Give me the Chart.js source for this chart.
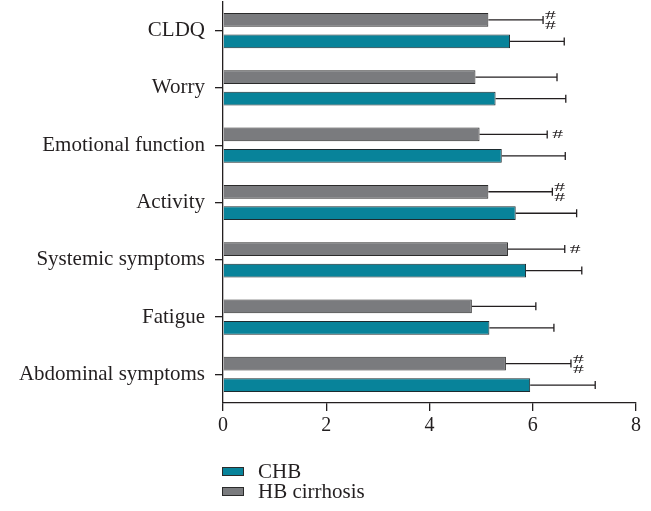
<!DOCTYPE html>
<html>
<head>
<meta charset="utf-8">
<script src="https://cdn.jsdelivr.net/npm/chart.js@4.4.1/dist/chart.umd.min.js"></script>
<style>
  body { margin: 0; background: #fff; }
  #wrap { position: relative; width: 651px; height: 511px; }
  #legend { position: absolute; left: 222px; top: 461px; font-family: 'Liberation Serif', serif; font-size: 21px; color: #231f20; }
  .item { display: flex; align-items: center; height: 20px; }
  .swatch { width: 20px; height: 7px; border: 1px solid #2b2b2b; margin-right: 14px; }
</style>
</head>
<body>
<div id="wrap">
  <canvas id="chart" width="651" height="511"></canvas>
  <div id="legend"></div>
</div>
<script>
// ---- Data ----
const categories = ['CLDQ', 'Worry', 'Emotional function', 'Activity', 'Systemic symptoms', 'Fatigue', 'Abdominal symptoms'];
const chbMeans = [5.56, 5.28, 5.40, 5.67, 5.87, 5.16, 5.95];
const chbSD    = [1.05, 1.36, 1.23, 1.18, 1.08, 1.25, 1.26];
const hbMeans  = [5.14, 4.89, 4.97, 5.14, 5.52, 4.82, 5.48];
const hbSD     = [1.06, 1.58, 1.31, 1.24, 1.10, 1.24, 1.26];
const hbMarks  = ['##', '', '#', '##', '#', '', '##'];
const xTicks   = [0, 2, 4, 6, 8];

const INK = '#231f20';
const SERIF = "'Liberation Serif', serif";

// draw a squat, wide '#' like the journal font
function hash(ctx, x, y) {
  ctx.save();
  ctx.translate(x, y);
  ctx.scale(1.55, 0.95);
  ctx.fillText('#', 0, 0);
  ctx.restore();
}

// ---- Error bars + significance marks ----
const errorBars = {
  id: 'errorBars',
  afterDatasetsDraw(chart) {
    const ctx = chart.ctx;
    const xs = chart.scales.x;
    chart.data.datasets.forEach((ds, di) => {
      const meta = chart.getDatasetMeta(di);
      meta.data.forEach((bar, i) => {
        const xEnd = xs.getPixelForValue(ds.data[i] + ds.errors[i]);
        ctx.save();
        ctx.strokeStyle = INK;
        ctx.lineWidth = 1.3;
        ctx.beginPath();
        ctx.moveTo(bar.x, bar.y);
        ctx.lineTo(xEnd, bar.y);
        ctx.moveTo(xEnd, bar.y - 4);
        ctx.lineTo(xEnd, bar.y + 4);
        ctx.stroke();
        const mark = ds.marks ? ds.marks[i] : '';
        if (mark) {
          ctx.fillStyle = INK;
          ctx.font = '14px ' + SERIF;
          ctx.textAlign = 'left';
          ctx.textBaseline = 'middle';
          if (mark.length === 2) {
            hash(ctx, xEnd + 2, bar.y - 4.5);
            hash(ctx, xEnd + 2, bar.y + 6);
          } else {
            hash(ctx, xEnd + 5, bar.y);
          }
        }
        ctx.restore();
      });
    });
  }
};

const chart = new Chart(document.getElementById('chart'), {
  type: 'bar',
  data: {
    labels: categories,
    datasets: [
      {
        label: 'HB cirrhosis',
        data: hbMeans,
        errors: hbSD,
        marks: hbMarks,
        backgroundColor: '#7a7b7e',
        borderColor: '#2b2b2b',
        borderWidth: 1,
        categoryPercentage: 0.75,
        barPercentage: 0.64
      },
      {
        label: 'CHB',
        data: chbMeans,
        errors: chbSD,
        backgroundColor: '#08839a',
        borderColor: '#1d2b2f',
        borderWidth: 1,
        categoryPercentage: 0.75,
        barPercentage: 0.64
      }
    ]
  },
  options: {
    indexAxis: 'y',
    responsive: false,
    animation: false,
    layout: { padding: { top: 2, right: 15, left: 10, bottom: 70 } },
    plugins: { legend: { display: false }, tooltip: { enabled: false } },
    scales: {
      x: {
        min: 0,
        max: 8,
        afterBuildTicks: s => { s.ticks = xTicks.map(v => ({ value: v })); },
        border: { display: true, color: INK, width: 1.3 },
        grid: { drawOnChartArea: false, drawTicks: true, tickLength: 8, color: INK, lineWidth: 1.3 },
        ticks: { color: INK, padding: 3, font: { family: SERIF, size: 20 } }
      },
      y: {
        afterFit: s => { s.width = 213; s.paddingTop = 0; s.paddingBottom = 0; },
        border: { display: true, color: INK, width: 1.3 },
        grid: { offset: false, drawOnChartArea: false, drawTicks: true, tickLength: 8, color: INK, lineWidth: 1.3 },
        ticks: { color: INK, padding: 10, font: { family: SERIF, size: 21 } }
      }
    }
  },
  plugins: [errorBars]
});

// ---- Legend (CHB listed first) ----
const legend = document.getElementById('legend');
chart.data.datasets.slice().reverse().forEach(ds => {
  const row = document.createElement('div');
  row.className = 'item';
  const sw = document.createElement('span');
  sw.className = 'swatch';
  sw.style.background = ds.backgroundColor;
  const txt = document.createElement('span');
  txt.textContent = ds.label;
  row.appendChild(sw);
  row.appendChild(txt);
  legend.appendChild(row);
});
</script>
</body>
</html>
